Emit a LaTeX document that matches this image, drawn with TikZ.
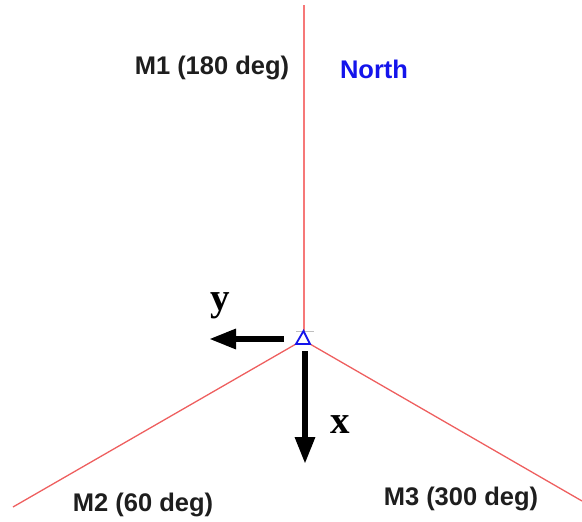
\documentclass[tikz,border=0pt]{standalone}
\usepackage{fontspec}
\setmainfont{Liberation Sans}
\newfontfamily\serifbold{Liberation Serif}
\usetikzlibrary{arrows.meta}
\definecolor{redline}{RGB}{238,95,95}
\definecolor{vline}{RGB}{246,120,120}
\definecolor{labgray}{RGB}{30,30,30}
\definecolor{northblue}{RGB}{20,20,235}
\tikzset{
  refline/.style={draw=redline, line width=1.3pt},
  axisarrow/.style={draw=black, line width=6pt, -{Triangle[width=19pt,length=27pt]}},
  mlabel/.style={font=\fontsize{25.5}{28}\selectfont\bfseries, text=labgray, inner sep=0pt},
  axlabel/.style={font=\serifbold\fontsize{39}{40}\selectfont\bfseries, inner sep=0pt}
}
\begin{document}
\begin{tikzpicture}[x=1pt,y=-1pt]
\useasboundingbox (0,0) rectangle (582,522);
\coordinate (top) at (302.5,5);
\coordinate (tA) at (303.5,331);
\coordinate (vB) at (304.5,331);
\coordinate (tL) at (296,344);
\coordinate (tR) at (310,344);
\coordinate (endL) at (13,507);
\coordinate (endR) at (582,501);
\coordinate (gL) at (296,331);
\coordinate (gR) at (314,331);
\coordinate (yS) at (284,339);
\coordinate (yE) at (209,339);
\coordinate (xS) at (305,351);
\coordinate (xE) at (305,464);
\fill[vline] (top) rectangle (vB);
\draw[refline] (tL) -- (endL);
\draw[refline] (tR) -- (endR);
\draw[gray!50, line width=0.6pt] (gL) -- (gR);
\draw[northblue, line width=1.8pt, line join=miter] (tA) -- (tL) -- (tR) -- cycle;
\draw[axisarrow] (yS) -- (yE);
\draw[axisarrow] (xS) -- (xE);
\node[axlabel] (ylab) at (220,306) {y};
\node[axlabel] (xlab) at (340,425) {x};
\node[mlabel] (m1) at (212,68) {M1 (180 deg)};
\node[mlabel, text=northblue] (north) at (374,69) {North};
\node[mlabel] (m2) at (143,505) {M2 (60 deg)};
\node[mlabel] (m3) at (461,499) {M3 (300 deg)};
\end{tikzpicture}
\end{document}
